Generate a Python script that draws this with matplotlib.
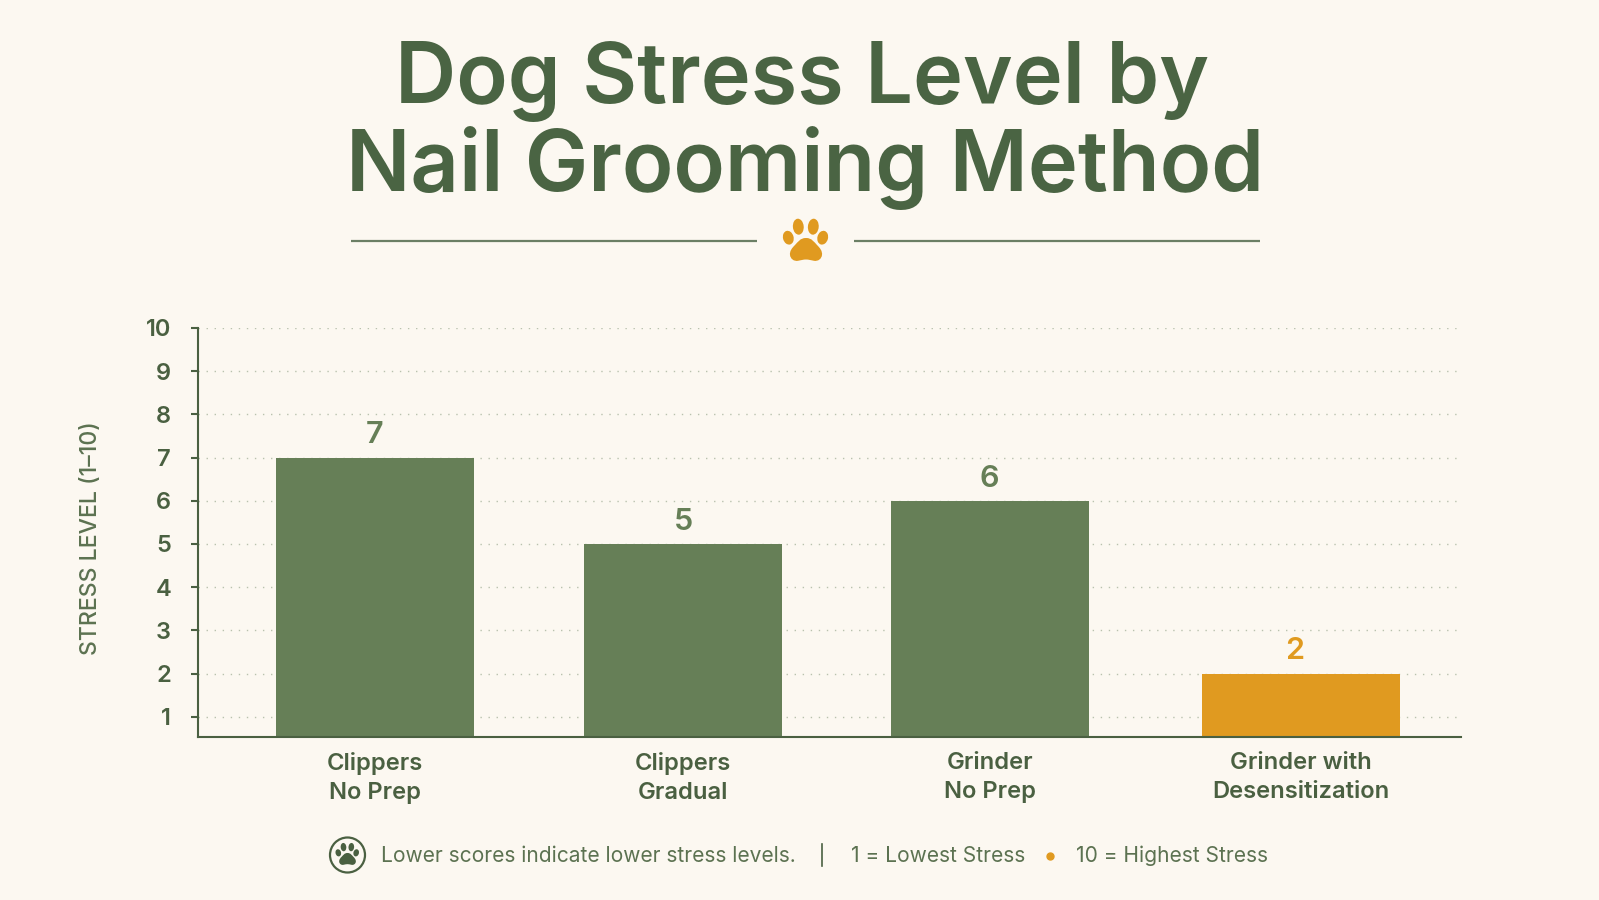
#!/usr/bin/python
import matplotlib
matplotlib.use('Agg')
import matplotlib.pyplot as plt
from matplotlib.patches import Ellipse, PathPatch, Circle
from matplotlib.path import Path

plt.rcParams['font.family'] = ['Inter', 'DejaVu Sans']

methods = ['Clippers\nNo Prep', 'Clippers\nGradual', 'Grinder\nNo Prep', 'Grinder with\nDesensitization']
stress = [7, 5, 6, 2]
yticks = [1, 2, 3, 4, 5, 6, 7, 8, 9, 10]

BG = '#FCF8F1'
GREEN = '#667F57'
DARK = '#4A6041'
TITLE = '#4A6443'
FOOT = '#5C7251'
ORANGE = '#E09A20'
W, H = 1599, 900

fig = plt.figure(figsize=(W / 100, H / 100), dpi=100, facecolor=BG)


def draw_paw(ax, cx, cy, s, color):
    for dx, dy, rx, ry, ang in [(-7.7, -12.3, 5.4, 8, -5), (7.3, -12.3, 5.4, 8, 5),
                                (-17.7, -1.3, 5.3, 7, -15), (16.7, -1.3, 5.3, 7, 15)]:
        ax.add_patch(Ellipse((cx + dx * s, cy + dy * s), 2 * rx * s, 2 * ry * s,
                             angle=ang, fc=color, ec='none'))
    half = [(0, -1), (6, -1), (8, 3), (11, 6), (14, 9), (16.5, 12), (16, 16),
            (15.5, 20), (12, 22.5), (8, 21.8), (5, 21.2), (2.5, 20.5), (0, 20.5)]
    verts = half + [(-x, y) for x, y in half[-2::-1]]
    codes = [Path.MOVETO] + [Path.CURVE4] * (len(verts) - 1)
    pts = [(cx + x * s, cy + y * s) for x, y in verts]
    ax.add_patch(PathPatch(Path(pts, codes), fc=color, ec='none'))


# main axes in pixel x units so the bars can sit on their own centres
left, right, top, bottom = 197.5, 1461, 328, 737
ax = fig.add_axes([left / W, 1 - bottom / H, (right - left) / W, (bottom - top) / H])
ax.set_facecolor('none')
bar_x = [375, 683, 989.7, 1300.5]
label_x = [375, 683, 989, 1295]
ax.set_xlim(left, right)
ax.set_ylim(0.53, 10)
colors = [GREEN, GREEN, GREEN, ORANGE]
ax.bar(bar_x, stress, width=198, color=colors, zorder=2)
for x, v, c in zip(label_x, stress, colors):
    ax.text(x, v + 0.19, str(v), ha='center', va='bottom', color=c,
            fontsize=22, fontweight=600, zorder=3)

ax.set_yticks(yticks)
ax.set_yticklabels([str(t) for t in yticks], fontsize=17, fontweight=600, color=DARK)
ax.set_xticks(bar_x)
ax.set_xticklabels(methods, fontsize=17.1, fontweight=600, color=DARK, linespacing=1.42)
ax.tick_params(axis='x', length=0, pad=11)
ax.tick_params(axis='y', length=5, width=1.5, color=DARK, pad=14)
ax.grid(axis='y', linestyle=(0, (1, 4.8)), color='#B9C2AE', linewidth=1)
ax.set_axisbelow(True)
for s in ['top', 'right']:
    ax.spines[s].set_visible(False)
for s in ['left', 'bottom']:
    ax.spines[s].set_color(DARK)
    ax.spines[s].set_linewidth(1.5)

# overlay in pixel coordinates for title, divider and footer
ov = fig.add_axes([0, 0, 1, 1], zorder=5)
ov.set_xlim(0, W)
ov.set_ylim(H, 0)
ov.axis('off')

ov.text(802.5, 81, 'Dog Stress Level by', ha='center', va='center', fontsize=61,
        fontweight=600, color=TITLE)
ov.text(804.5, 168.5, 'Nail Grooming Method', ha='center', va='center', fontsize=61,
        fontweight=600, color=TITLE)
ov.plot([351, 757], [241, 241], color='#6B7F65', lw=1.6, solid_capstyle='butt')
ov.plot([853.5, 1259.5], [241, 241], color='#6B7F65', lw=1.6, solid_capstyle='butt')
draw_paw(ov, 806, 239, 1, ORANGE)

ov.text(90.5, 538, 'STRESS LEVEL (1–10)', rotation=90, ha='center', va='center',
        fontsize=16.6, fontweight=500, color=FOOT)

ov.add_patch(Circle((347.5, 855), 17.5, fc='none', ec=DARK, lw=1.6))
draw_paw(ov, 347.5, 853.5, 0.52, DARK)
foot = dict(va='center', fontsize=15.1, color=FOOT)
ov.text(381, 856, 'Lower scores indicate lower stress levels.', **foot)
ov.plot([822, 822], [844, 866], color=DARK, lw=1.2)
ov.text(851, 856, '1 = Lowest Stress', **foot)
ov.plot([1050], [855.5], 'o', color=ORANGE, ms=5)
ov.text(1076, 856, '10 = Highest Stress', **foot)

fig.savefig('out.png', dpi=100, facecolor=BG)
